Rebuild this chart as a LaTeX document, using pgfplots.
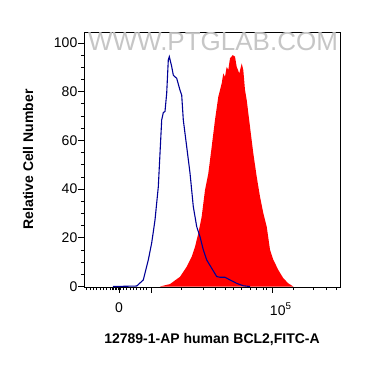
\documentclass[border=0pt]{standalone}
\usepackage{fontspec}
\setmainfont{Liberation Sans}
\usepackage{pgfplots}
\pgfplotsset{compat=1.18}
\definecolor{navy}{RGB}{0,0,150}
\begin{document}
\begin{tikzpicture}
\path[use as bounding box] (-84pt,-80pt) rectangle (281pt,287pt);
\begin{axis}[at={(0pt,0pt)}, anchor=south west, scale only axis,
  width=256pt, height=255pt,
  xmin=0, xmax=256, ymin=-0.2, ymax=104.5,
  axis line style={line width=0.9pt},
  tick align=outside, xtick pos=bottom, ytick pos=left,
  tick style={black, line width=0.8pt},
  major tick length=5.5pt, minor tick length=3pt,
  ytick={0,20,40,60,80,100},
  minor ytick={5,10,15,25,30,35,45,50,55,65,70,75,85,90,95},
  xtick={35,188},
  xticklabels={0,{\makebox[0pt][l]{\hspace{-2pt}10\textsuperscript{5}}}},
  extra x ticks={67.7}, extra x tick labels={},
  minor xtick={2.7,6,9.3,12.7,16,19.3,22.7,26,28,29.5,31,32.5,34,36,39.3,42.7,46,49.3,52.7,56,59.3,62.7,97.7,119.3,131,141,149.3,157.7,166,172.7,179.3,182.7,209.3,229.3,242.7,252.7},
  /pgf/number format/assume math mode=true,
  ticklabel style={font=\fontsize{14}{16}\selectfont},
  yticklabel style={inner sep=1pt},
  xticklabel style={yshift=-7pt},
  xlabel={\bfseries 12789-1-AP human BCL2,FITC-A},
  ylabel={\bfseries Relative Cell Number},
  label style={font=\fontsize{14}{16}\selectfont},
  xlabel style={at={(axis description cs:0.5,0)}, anchor=center, yshift=-53pt},
  ylabel style={at={(axis description cs:0,0.5)}, anchor=center, yshift=56pt},
]
\node[text=gray!45, font=\fontsize{26}{26}\selectfont] at (axis cs:129,100.4) {WWW.PTGLAB.COM};
\addplot[fill=red, draw=none] coordinates {
(76,0) (86,1.0) (96,4.0) (102.7,8.1) (107.7,12.2) (111,16.3) (114.3,21.8) (117.7,28.7)
(121,39.6) (124.3,46.4) (127.7,57.4) (131,68.4) (134.3,77.9) (137.7,83.4) (139.3,87.5)
(141,86.1) (142.7,90.2) (144.3,88.9) (146,93.7) (148.7,95.0) (151,94.4) (152.7,90.2)
(155.3,87.5) (157.7,91.6) (159.3,88.9) (161,80.7) (162.7,76.6) (166,65.6) (169.3,54.7)
(172.7,45.1) (176,36.9) (179.3,30.1) (182.7,24.6) (186,15.1) (189.3,11.0) (194.3,6.8)
(199.3,3.4) (204.3,1.3) (209.3,0)
} \closedcycle;
\addplot[navy, line width=1.1pt] coordinates {
(29,0) (52.7,0.2) (59.3,2.7) (64.3,10.9) (67.7,17.9) (71,27.3) (74.3,40.9) (77.7,68.4)
(79.3,71.4) (81,71.9) (82.7,79.4) (84.3,93.0) (85.3,94.4) (87.7,90.3) (89.3,86.8)
(91,86.1) (92.7,85.5) (96,80.6) (97.7,78.6) (99.3,68.4) (102.7,57.4) (106,46.6)
(109.3,32.8) (112.7,24.6) (116,20.5) (119.3,15.1) (122.7,10.9) (127.7,7.5) (132.7,4.1)
(136,3.8) (141,3.8) (146,2.7) (152.7,1.3) (159.3,0.3) (166,0)
};
\end{axis}
\end{tikzpicture}
\end{document}
